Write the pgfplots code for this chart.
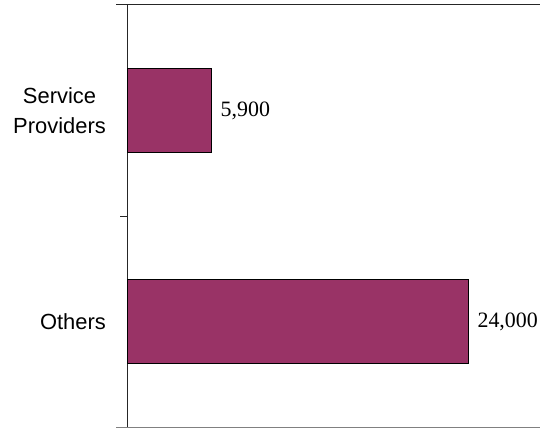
\documentclass[border=0pt]{standalone}
\usepackage{fontspec}
\setmainfont{Liberation Serif}
\newfontfamily\arialf{Liberation Sans}
\usepackage{pgfplots}
\pgfplotsset{compat=1.18}
\definecolor{barpurple}{HTML}{993366}

\begin{document}
\begin{tikzpicture}[x=1bp,y=1bp]
\useasboundingbox (0,0) rectangle (540,428);
\begin{axis}[
    at={(127.5bp,0.5bp)}, anchor=south west,
    scale only axis,
    width=412.5bp, height=422.5bp,
    xbar,
    bar width=84bp,
    xmin=0, xmax=29070,
    ymin=-0.5, ymax=1.5,
    clip=false,
    hide x axis,
    axis y line*=left,
    y axis line style={line width=1bp, draw=black!85, -},
    ytick={0,1},
    yticklabels={Others,{Service\\Providers}},
    major tick length=0pt,
    yticklabel style={font=\arialf\fontsize{22}{30}\selectfont, align=center,
        inner sep=0pt, xshift=-21.5bp},
    nodes near coords,
    point meta=x,
    every node near coord/.append style={font=\fontsize{22}{26}\selectfont,
        /pgf/number format/assume math mode=true,
        inner sep=0pt, anchor=west, xshift=9bp, black},
]
\addplot[fill=barpurple, draw=black, line width=1bp] coordinates {
    (24000,0) (5900,1)
};
% frame lines top and bottom, tick between categories
\draw[line width=1bp, black!85] ([xshift=-11.5bp]rel axis cs:0,1) -- (rel axis cs:1,1);
\draw[line width=1bp, gray] ([xshift=-11.5bp]rel axis cs:0,0) -- (rel axis cs:1,0);
\draw[line width=1bp, black!85] ([xshift=-7.5bp]axis cs:0,0.5) -- (axis cs:0,0.5);
\end{axis}
\end{tikzpicture}
\end{document}
